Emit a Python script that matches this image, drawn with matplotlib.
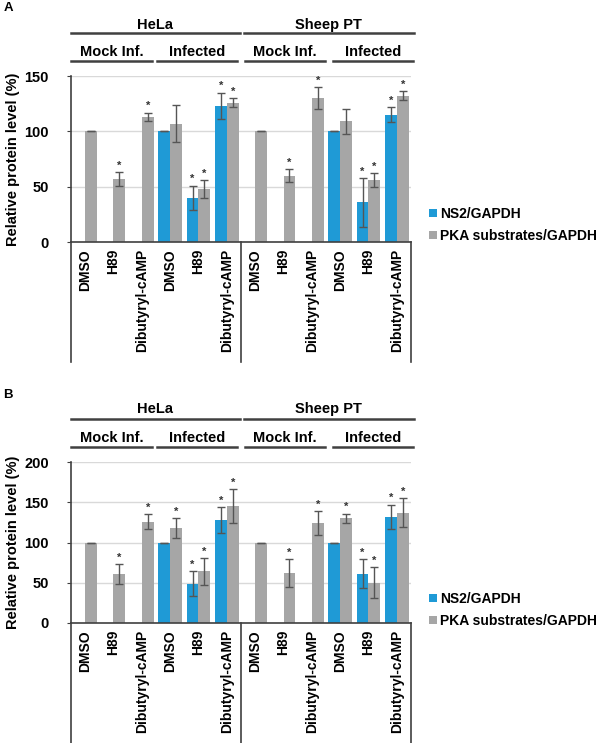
import numpy as np
import matplotlib
matplotlib.use('Agg')
import matplotlib.pyplot as plt
from matplotlib.transforms import blended_transform_factory
from matplotlib.lines import Line2D

plt.rcParams['font.family'] = ['Liberation Sans', 'DejaVu Sans']
plt.rcParams['font.weight'] = 'bold'

categories = ['DMSO', 'H89', 'Dibutyryl-cAMP'] * 4
nan = np.nan

# panel A
ns2_a = [nan, nan, nan, 100, 40, 123, nan, nan, nan, 100, 36, 115]
ns2_a_err = [0, 0, 0, 0, 11, 12, 0, 0, 0, 0, 22, 7]
pka_a = [100, 57, 113, 107, 48, 126, 100, 60, 130, 109, 56, 132]
pka_a_err = [0, 6, 4, 17, 8, 4, 0, 6, 10, 11, 6, 4]
ns2_a_star = [0, 0, 0, 0, 1, 1, 0, 0, 0, 0, 1, 1]
pka_a_star = [0, 1, 1, 0, 1, 1, 0, 1, 1, 0, 1, 1]

# panel B
ns2_b = [nan, nan, nan, 100, 49, 128, nan, nan, nan, 100, 61, 132]
ns2_b_err = [0, 0, 0, 0, 15, 16, 0, 0, 0, 0, 18, 15]
pka_b = [100, 61, 126, 118, 64, 145, 100, 62, 124, 130, 50, 137]
pka_b_err = [0, 12, 9, 12, 17, 21, 0, 17, 15, 6, 19, 18]
ns2_b_star = [0, 0, 0, 0, 1, 1, 0, 0, 0, 0, 1, 1]
pka_b_star = [0, 1, 1, 1, 1, 1, 0, 1, 1, 1, 1, 1]

BLUE = '#1f9ad6'
GRAY = '#a6a6a6'
DARK = '#404040'
W, H = 600, 743

fig = plt.figure(figsize=(6, 7.43), dpi=100)


def fy(px):
    return 1 - px / H


def panel(rect, ymax, ns2, ns2_err, pka, pka_err, ns2_star, pka_star,
          y_cell, y_line_cell, y_sub, y_line_sub, box_bottom, leg_y, letter, letter_y):
    ax = fig.add_axes(rect)
    x = np.arange(len(categories))
    w = 0.42
    ekw = {'elinewidth': 1, 'capthick': 1}
    ax.bar(x - w / 2, ns2, w, color=BLUE, yerr=ns2_err, ecolor='#555555',
           capsize=3, error_kw=ekw, label='NS2/GAPDH', zorder=2)
    ax.bar(x + w / 2, pka, w, color=GRAY, yerr=pka_err, ecolor='#555555',
           capsize=3, error_kw=ekw, label='PKA substrates/GAPDH', zorder=2)
    for i in range(len(x)):
        if ns2_star[i]:
            ax.annotate('*', (x[i] - w / 2, ns2[i] + ns2_err[i]), xytext=(0, 1),
                        textcoords='offset points', ha='center', va='bottom', fontsize=8, color='#333333')
        if pka_star[i]:
            ax.annotate('*', (x[i] + w / 2, pka[i] + pka_err[i]), xytext=(0, 1),
                        textcoords='offset points', ha='center', va='bottom', fontsize=8, color='#333333')
    ax.set_xlim(-0.5, len(categories) - 0.5)
    ax.set_ylim(0, ymax)
    ax.set_yticks(np.arange(0, ymax + 1, 50))
    ax.yaxis.grid(True, color='#d9d9d9', lw=1)
    ax.set_axisbelow(True)
    for s in ['top', 'right']:
        ax.spines[s].set_visible(False)
    for s in ['left', 'bottom']:
        ax.spines[s].set_color(DARK)
        ax.spines[s].set_linewidth(1.2)
    ax.set_xticks(x)
    ax.set_xticklabels(categories, rotation=90, fontsize=10, fontweight='bold')
    ax.tick_params(axis='x', length=0, pad=5)
    ax.tick_params(axis='y', labelsize=10.5, length=3, color=DARK, pad=13)
    for t in ax.get_yticklabels():
        t.set_fontweight('bold')
    ax.set_ylabel('Relative protein level (%)', fontsize=10.5, fontweight='bold', labelpad=3)

    tr = blended_transform_factory(ax.transData, fig.transFigure)
    # category box lines below the axis
    for xv in [-0.5, 5.5, 11.5]:
        fig.add_artist(Line2D([xv, xv], [rect[1], box_bottom], transform=tr, color=DARK, lw=1.2))
    # cell line headers
    for lbl, x0, x1 in [('HeLa', -0.5, 5.45), ('Sheep PT', 5.6, 11.6)]:
        fig.add_artist(Line2D([x0, x1], [y_line_cell, y_line_cell], transform=tr, color=DARK, lw=1.8))
        fig.text((x0 + x1) / 2, y_cell, lbl, transform=tr, ha='center', va='center',
                 fontsize=10.5, fontweight='bold')
    for lbl, x0, x1 in [('Mock Inf.', -0.5, 2.36), ('Infected', 2.54, 5.36),
                        ('Mock Inf.', 5.64, 8.46), ('Infected', 8.75, 11.57)]:
        fig.add_artist(Line2D([x0, x1], [y_line_sub, y_line_sub], transform=tr, color=DARK, lw=1.8))
        fig.text((x0 + x1) / 2, y_sub, lbl, transform=tr, ha='center', va='center',
                 fontsize=10.5, fontweight='bold')
    fig.legend(*ax.get_legend_handles_labels(), loc='center left', bbox_to_anchor=(0.715, leg_y),
               frameon=False, handlelength=0.55, handleheight=0.55,
               handletextpad=0.25, labelspacing=0.55, borderpad=0, borderaxespad=0,
               prop={'weight': 'bold', 'size': 10})
    fig.text(0.006, letter_y, letter, fontsize=9.5, fontweight='bold', va='center')
    return ax


panel([71 / W, fy(242), 340 / W, (242 - 76) / H], 150,
      ns2_a, ns2_a_err, pka_a, pka_a_err, ns2_a_star, pka_a_star,
      fy(25), fy(33), fy(52), fy(61), fy(362), fy(225), 'A', fy(8))
panel([71 / W, fy(623), 340 / W, (623 - 462) / H], 200,
      ns2_b, ns2_b_err, pka_b, pka_b_err, ns2_b_star, pka_b_star,
      fy(409), fy(419), fy(438), fy(447), 0.0, fy(610), 'B', fy(395))

fig.savefig('out.png', dpi=100)
